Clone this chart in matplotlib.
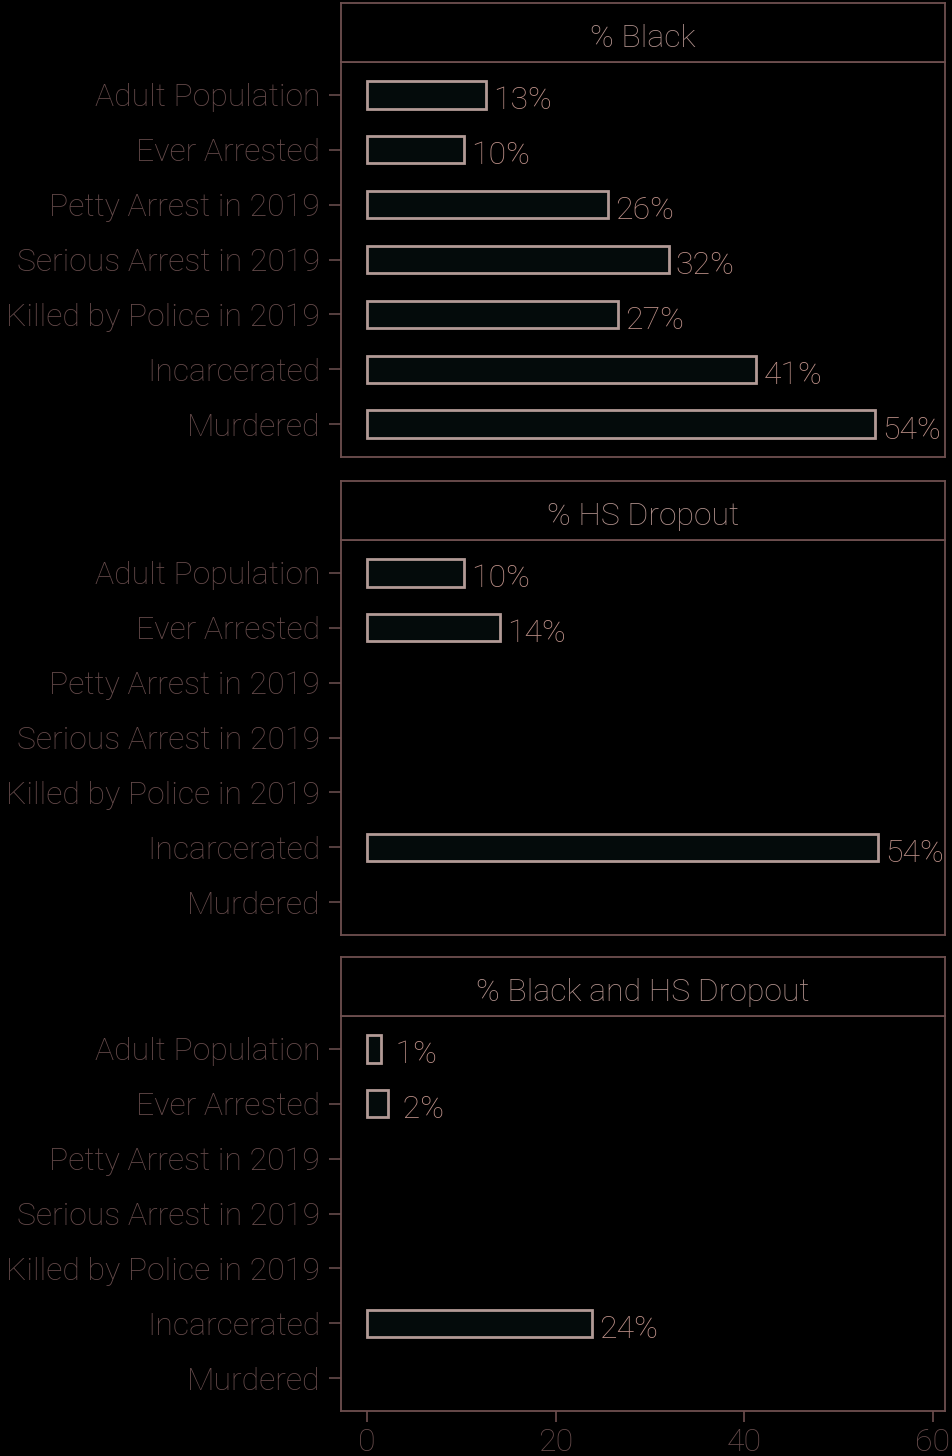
import matplotlib
matplotlib.use("Agg")
import matplotlib.pyplot as plt
import matplotlib.transforms as mtransforms

categories = ["Adult Population", "Ever Arrested", "Petty Arrest in 2019",
              "Serious Arrest in 2019", "Killed by Police in 2019",
              "Incarcerated", "Murdered"]
panels = ["% Black", "% HS Dropout", "% Black and HS Dropout"]
black_vals = [12.6, 10.3, 25.6, 32.0, 26.6, 41.3, 53.9]
black_labels = ["13%", "10%", "26%", "32%", "27%", "41%", "54%"]
drop_vals = [10.3, 14.1, None, None, None, 54.2, None]
drop_labels = ["10%", "14%", None, None, None, "54%", None]
both_vals = [1.5, 2.2, None, None, None, 23.9, None]
both_labels = [" 1%", " 2%", None, None, None, "24%", None]
x_ticks = [0, 20, 40, 60]

values = [black_vals, drop_vals, both_vals]
labels = [black_labels, drop_labels, both_labels]

FONT = ["Roboto", "DejaVu Sans"]
plt.rcParams['font.family'] = FONT
WEIGHT = "light"
BG = "black"
BORDER = "#6e4f4f"
TICKLAB = "#664b4b"
VALCOL = "#bc8f87"
STRIPCOL = "#b0908b"
BAREDGE = "#b29a96"
BARFILL = "#040b0b"
FS = 23

W, H = 952, 1456
fig = plt.figure(figsize=(W / 100, H / 100), dpi=100, facecolor=BG)
down = mtransforms.ScaledTranslation(0, -3 / 100, fig.dpi_scale_trans)

left, right = 341, 945
panel_tops = [62, 540, 1016]
panel_h = 395
strip_h = 59

for i in range(3):
    top = panel_tops[i]
    bottom = top + panel_h
    ax = fig.add_axes([left / W, 1 - bottom / H, (right - left) / W, panel_h / H])
    ax.set_facecolor(BG)
    ys = list(range(1, len(categories) + 1))
    for y, v, lab in zip(ys, values[i], labels[i]):
        if v is None:
            continue
        ax.barh(y, v, height=0.5, color=BARFILL, edgecolor=BAREDGE, linewidth=2)
        ax.text(v + 0.75, y, lab, ha="left", va="center_baseline", color=VALCOL,
                fontsize=FS, fontweight=WEIGHT, clip_on=False,
                transform=ax.transData + down)
    ax.set_xlim(-2.76, 61.3)
    ax.set_ylim(7.6, 0.4)
    ax.set_yticks(ys)
    ax.set_yticklabels(categories, fontsize=FS, color=TICKLAB, fontweight=WEIGHT)
    for t in ax.get_yticklabels():
        t.set_verticalalignment("center_baseline")
        t.set_transform(t.get_transform() + down)
    ax.tick_params(axis="y", length=9, width=1.2, color=TICKLAB, pad=6)
    for s in ax.spines.values():
        s.set_color(BORDER)
        s.set_linewidth(1.3)
    if i == 2:
        ax.set_xticks(x_ticks)
        ax.set_xticklabels([str(t) for t in x_ticks], fontsize=FS, color=TICKLAB,
                           fontweight=WEIGHT)
        ax.tick_params(axis="x", length=8, width=1.2, color=BORDER, pad=4)
    else:
        ax.set_xticks([])

    sax = fig.add_axes([left / W, 1 - top / H, (right - left) / W, strip_h / H])
    sax.set_facecolor(BG)
    sax.set_xticks([])
    sax.set_yticks([])
    for s in sax.spines.values():
        s.set_color(BORDER)
        s.set_linewidth(1.3)
    sax.text(0.5, 0.5, panels[i], ha="center", va="center_baseline", color=STRIPCOL,
             fontsize=FS, fontweight=WEIGHT, transform=sax.transAxes + down)

fig.savefig("out.png", dpi=100, facecolor=BG)
